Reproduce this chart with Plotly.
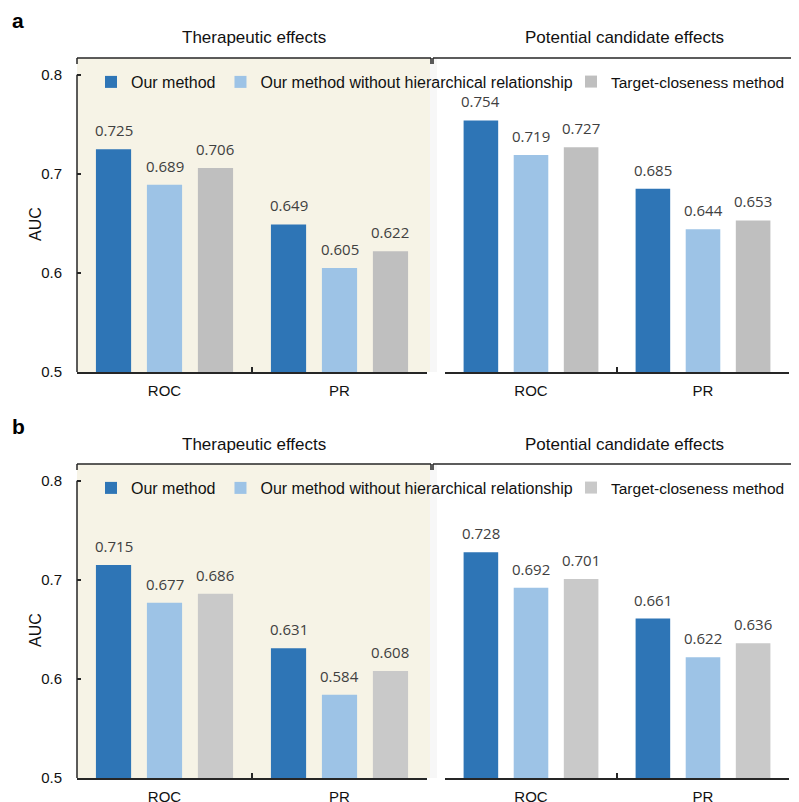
import plotly.graph_objects as go

# ---------------- data ----------------
categories = ["ROC", "PR"]
series_names = ["Our method", "Our method without hierarchical relationship", "Target-closeness method"]
panel_titles = ["Therapeutic effects", "Potential candidate effects"]
panel_letters = ["a", "b"]
y_tick_vals = [0.5, 0.6, 0.7, 0.8]
y_tick_text = ["0.5", "0.6", "0.7", "0.8"]
y_title = "AUC"

# panel a
a_ther_our = [0.725, 0.649]
a_ther_nohier = [0.689, 0.605]
a_ther_target = [0.706, 0.622]
a_pot_our = [0.754, 0.685]
a_pot_nohier = [0.719, 0.644]
a_pot_target = [0.727, 0.653]
# panel b
b_ther_our = [0.715, 0.631]
b_ther_nohier = [0.677, 0.584]
b_ther_target = [0.686, 0.608]
b_pot_our = [0.728, 0.661]
b_pot_nohier = [0.692, 0.622]
b_pot_target = [0.701, 0.636]

# ---------------- style / layout constants ----------------
W, H = 799, 802
OFF = 8  # page body margin
FW, FH = W - OFF, H - OFF
DARK = "#2E75B6"
LIGHT = "#9DC3E6"
GRAY_A = "#BFBFBF"
GRAY_B = "#C9C9C9"
BEIGE = "#F6F3E6"
AXC = "#262626"
FONT = "Liberation Sans, Arial, sans-serif"
VFONT = "Open Sans, sans-serif"

BARGAP = 0.126
BARGROUPGAP = 0.31
YMAX = 0.817

# page-pixel geometry
LX0, LX1 = 77, 427     # left subplot x extent
RX0, RX1 = 445, 789    # right subplot x extent
BEIGE_X1 = 430
PANELS_PX = [(58, 372), (464, 778)]  # (top, bottom) of each panel row


def px_x(p):
    return (p - OFF) / FW


def px_y(p):
    return 1 - (p - OFF) / FH


fig = go.Figure()

panels = [
    [(a_ther_our, a_ther_nohier, a_ther_target), (a_pot_our, a_pot_nohier, a_pot_target)],
    [(b_ther_our, b_ther_nohier, b_ther_target), (b_pot_our, b_pot_nohier, b_pot_target)],
]
gray_by_panel = [GRAY_A, GRAY_B]
# first two series share one legend; the third gets its own legend
legend_names = [["legend", "legend", "legend3"], ["legend2", "legend2", "legend4"]]

annotations = []
shapes = []

for pi, panel in enumerate(panels):
    colors = [DARK, LIGHT, gray_by_panel[pi]]
    for si, sub in enumerate(panel):
        idx = pi * 2 + si + 1
        xa = "x" if idx == 1 else f"x{idx}"
        ya = "y" if idx == 1 else f"y{idx}"
        for k, vals in enumerate(sub):
            fig.add_trace(go.Bar(
                x=categories, y=vals, name=series_names[k],
                marker=dict(color=colors[k], line=dict(width=0)),
                offsetgroup=str(k), legendgroup=f"{pi}-{k}",
                showlegend=(si == 0), legend=legend_names[pi][k],
                xaxis=xa, yaxis=ya, hoverinfo="skip",
            ))
        # value labels through the axis scales
        x0, x1 = (LX0, LX1) if si == 0 else (RX0, RX1)
        slot = (x1 - x0) / len(categories) * (1 - BARGAP) / 3
        for k, vals in enumerate(sub):
            for c, v in zip(categories, vals):
                annotations.append(dict(
                    x=c, y=v, xref=xa, yref=ya, text=f"{v:.3f}",
                    showarrow=False, xshift=(k - 1) * slot, yshift=19,
                    yanchor="middle", xanchor="center",
                    font=dict(family=VFONT, size=15, color="#404040"),
                ))

# axes
for pi, (top, bot) in enumerate(PANELS_PX):
    ydom = [px_y(bot), px_y(top)]
    for si in range(2):
        idx = pi * 2 + si + 1
        x0, x1 = (LX0, LX1) if si == 0 else (RX0, RX1)
        xkey = "xaxis" if idx == 1 else f"xaxis{idx}"
        ykey = "yaxis" if idx == 1 else f"yaxis{idx}"
        ya = "y" if idx == 1 else f"y{idx}"
        fig.update_layout(**{
            xkey: dict(domain=[px_x(x0), px_x(x1)], anchor=ya, type="category",
                       showline=True, linecolor=AXC, linewidth=1.5,
                       ticks="inside", tickson="boundaries", ticklen=5, tickwidth=1.5,
                       tickcolor=AXC, showgrid=False, zeroline=False, automargin=False,
                       tickfont=dict(family=FONT, size=15, color="#111"),
                       ticklabelstandoff=4, fixedrange=True),
            ykey: dict(domain=ydom, anchor=("x" if idx == 1 else f"x{idx}"),
                       range=[0.5, YMAX], showgrid=False, zeroline=False,
                       showline=False, visible=(si == 0), automargin=False,
                       tickvals=y_tick_vals, ticktext=y_tick_text,
                       ticks="inside", ticklen=4, tickwidth=1.5, tickcolor=AXC,
                       tickfont=dict(family=FONT, size=15, color="#111"),
                       ticklabelstandoff=14, fixedrange=True),
        })
    # y-axis line from 0.5 to 0.8 on the left subplot
    yref = "y" if pi == 0 else "y3"
    xref = "x domain" if pi == 0 else "x3 domain"
    shapes.append(dict(type="line", xref=xref, yref=yref, x0=0, x1=0,
                       y0=y_tick_vals[0], y1=y_tick_vals[-1],
                       line=dict(color=AXC, width=1.5)))
    # beige background for therapeutic panel
    shapes.append(dict(type="rect", xref="paper", yref="paper",
                       x0=px_x(LX0), x1=px_x(BEIGE_X1), y0=px_y(bot), y1=px_y(top),
                       fillcolor=BEIGE, line=dict(width=0), layer="below"))
    shapes.append(dict(type="rect", xref="paper", yref="paper",
                       x0=px_x(BEIGE_X1), x1=px_x(BEIGE_X1 + 7), y0=px_y(bot), y1=px_y(top),
                       fillcolor="#F7F7F7", line=dict(width=0), layer="below"))
    # top brackets
    tick = 6
    for bx0, bx1, right_tick in [(LX0, BEIGE_X1 + 1, True), (BEIGE_X1 + 3, W + 2, False)]:
        shapes.append(dict(type="line", xref="paper", yref="paper",
                           x0=px_x(bx0), x1=px_x(bx1), y0=px_y(top), y1=px_y(top),
                           line=dict(color=AXC, width=1.5)))
        shapes.append(dict(type="line", xref="paper", yref="paper",
                           x0=px_x(bx0), x1=px_x(bx0), y0=px_y(top), y1=px_y(top + tick),
                           line=dict(color=AXC, width=1.5)))
        if right_tick:
            shapes.append(dict(type="line", xref="paper", yref="paper",
                               x0=px_x(bx1), x1=px_x(bx1), y0=px_y(top), y1=px_y(top + tick),
                               line=dict(color=AXC, width=1.5)))
    # panel titles
    annotations.append(dict(x=px_x(254), y=px_y(top - 20), xref="paper", yref="paper",
                            text=panel_titles[0], showarrow=False, xanchor="center", yanchor="middle",
                            font=dict(family=FONT, size=17, color="#111")))
    annotations.append(dict(x=px_x(624), y=px_y(top - 20), xref="paper", yref="paper",
                            text=panel_titles[1], showarrow=False, xanchor="center", yanchor="middle",
                            font=dict(family=FONT, size=17, color="#111")))
    # panel letter
    annotations.append(dict(x=px_x(10), y=px_y(top - 38), xref="paper", yref="paper",
                            text=f"<b>{panel_letters[pi]}</b>", showarrow=False,
                            xanchor="left", yanchor="middle",
                            font=dict(family=FONT, size=21, color="#000")))
    # y title
    annotations.append(dict(x=px_x(35), y=px_y((top + bot) / 2 + 9), xref="paper", yref="paper",
                            text=y_title, showarrow=False, textangle=-90,
                            xanchor="center", yanchor="middle",
                            font=dict(family=FONT, size=16, color="#111")))

leg_common = dict(orientation="h", yanchor="middle", xanchor="left",
                  bgcolor="rgba(0,0,0,0)",
                  itemclick=False, itemdoubleclick=False, traceorder="normal")
leg_font = dict(family=FONT, size=16, color="#111")
leg_font_small = dict(family=FONT, size=15.5, color="#111")
fig.update_layout(
    legend=dict(x=px_x(91), y=px_y(PANELS_PX[0][0] + 24), font=leg_font, **leg_common),
    legend2=dict(x=px_x(91), y=px_y(PANELS_PX[1][0] + 24), font=leg_font, **leg_common),
    legend3=dict(x=px_x(571), y=px_y(PANELS_PX[0][0] + 24), font=leg_font_small,
                 entrywidth=190, entrywidthmode="pixels", **leg_common),
    legend4=dict(x=px_x(571), y=px_y(PANELS_PX[1][0] + 24), font=leg_font_small,
                 entrywidth=190, entrywidthmode="pixels", **leg_common),
)

fig.update_layout(
    width=FW, height=FH,
    margin=dict(l=0, r=0, t=0, b=0, pad=0, autoexpand=False),
    paper_bgcolor="white", plot_bgcolor="rgba(0,0,0,0)",
    barmode="group", bargap=BARGAP, bargroupgap=BARGROUPGAP,
    shapes=shapes, annotations=annotations,
    showlegend=True,
)

fig.write_html(
    "out.html",
    post_script="document.documentElement.style.overflow='hidden';"
                "document.body.style.overflow='hidden';",
)
